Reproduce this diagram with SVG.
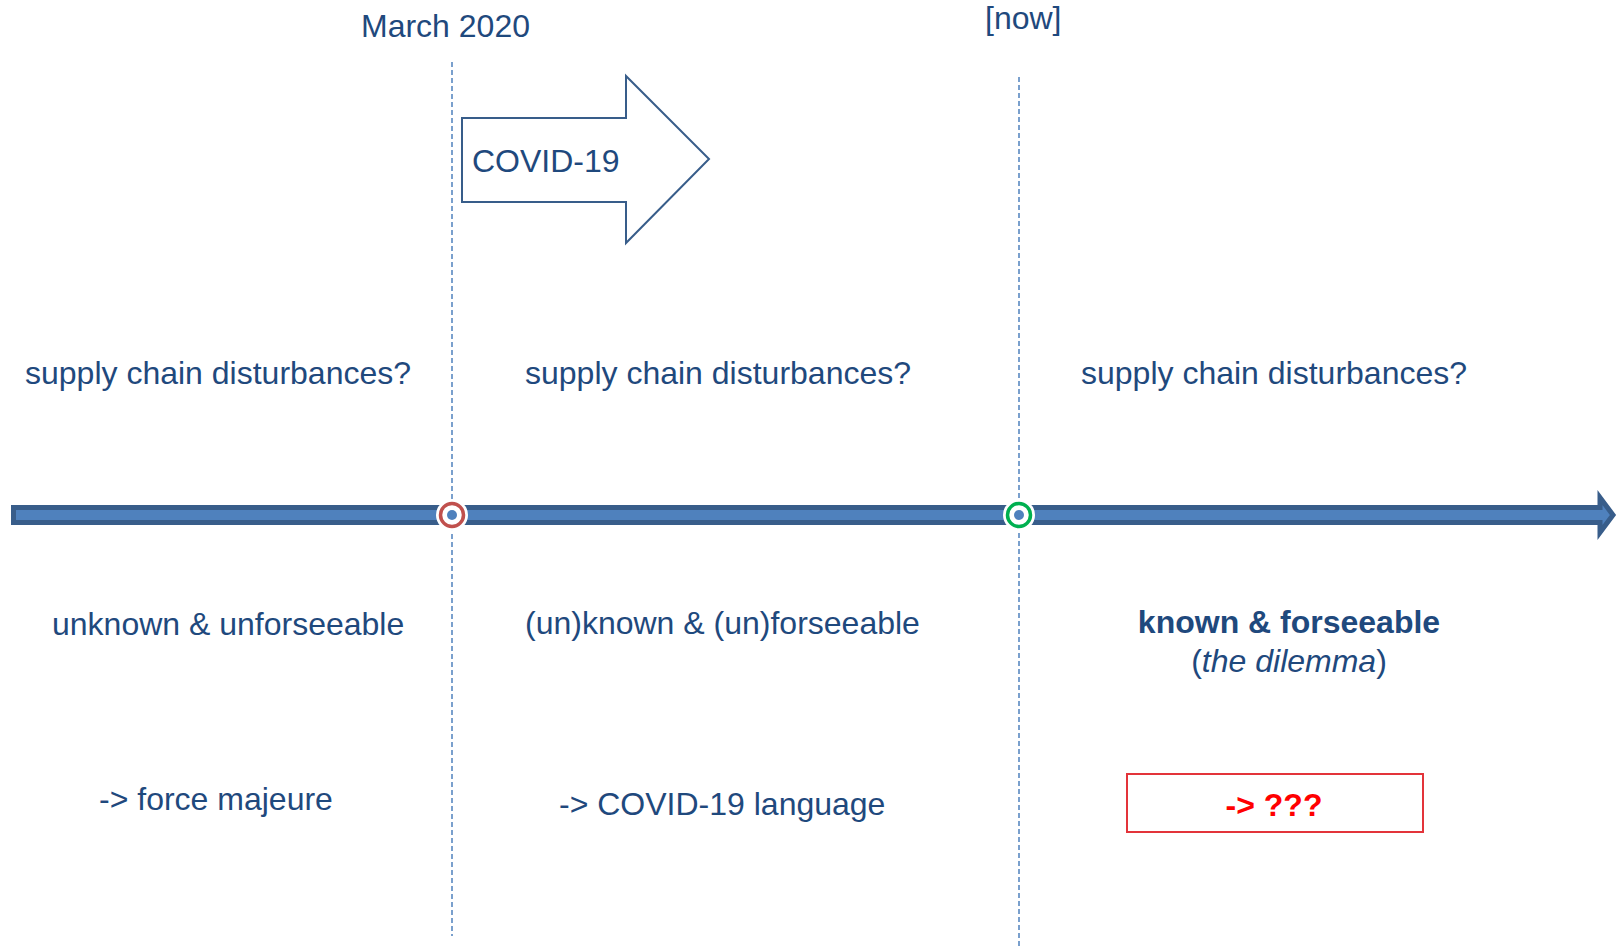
<svg xmlns="http://www.w3.org/2000/svg" width="1618" height="948" viewBox="0 0 1618 948">
<style>
.t{font-family:"Liberation Sans",Arial,sans-serif;font-size:32px;fill:#1F497D}
.b{font-weight:bold}
.dash{stroke:#4F81BD;stroke-width:1.5;stroke-dasharray:5 3;fill:none}
</style>
<rect width="1618" height="948" fill="#FFFFFF"/>
<g id="connectors">
<line class="dash" x1="452" y1="62" x2="452" y2="936"/>
<line class="dash" x1="1019" y1="77" x2="1019" y2="948"/>
<path id="axis" d="M13.5 507.5 H1600 V497.5 L1613 515 L1600 532.5 V522.5 H13.5 Z" fill="#4F81BD" stroke="#385D8A" stroke-width="5" stroke-linejoin="miter"/>
</g>
<g id="marker-march">
<circle cx="452" cy="515" r="16" fill="#FFFFFF"/>
<circle cx="452" cy="515" r="11.5" fill="#FFFFFF" stroke="#C0504D" stroke-width="3.5"/>
<circle cx="452" cy="515" r="5" fill="#4F81BD"/>
</g>
<g id="marker-now">
<circle cx="1019" cy="515" r="16" fill="#FFFFFF"/>
<circle cx="1019" cy="515" r="11.5" fill="#FFFFFF" stroke="#00B050" stroke-width="3.5"/>
<circle cx="1019" cy="515" r="5" fill="#4F81BD"/>
</g>
<g id="label-march"><text class="t" x="361" y="37">March 2020</text></g>
<g id="label-now"><text class="t" x="985" y="29">[now]</text></g>
<g id="covid-arrow">
<polygon points="462,118 626,118 626,76 709,159 626,243 626,202 462,202" fill="#FFFFFF" stroke="#385D8A" stroke-width="2"/>
<text class="t" x="472" y="172">COVID-19</text>
</g>
<g id="q1"><text class="t" x="25" y="384">supply chain disturbances?</text></g>
<g id="q2"><text class="t" x="525" y="384">supply chain disturbances?</text></g>
<g id="q3"><text class="t" x="1081" y="384">supply chain disturbances?</text></g>
<g id="s1"><text class="t" x="52" y="635">unknown &amp; unforseeable</text></g>
<g id="s2"><text class="t" x="525" y="634">(un)known &amp; (un)forseeable</text></g>
<g id="s3">
<text class="t b" x="1289" y="633" text-anchor="middle">known &amp; forseeable</text>
<text class="t" x="1289" y="672" text-anchor="middle">(<tspan font-style="italic">the dilemma</tspan>)</text>
</g>
<g id="r1"><text class="t" x="99" y="810">-&gt; force majeure</text></g>
<g id="r2"><text class="t" x="559" y="815">-&gt; COVID-19 language</text></g>
<g id="r3">
<rect x="1127" y="774" width="296" height="58" fill="#FFFFFF" stroke="#E3343A" stroke-width="2"/>
<text class="t b" x="1274" y="816" text-anchor="middle" style="fill:#FF0000">-&gt; ???</text>
</g>
</svg>
